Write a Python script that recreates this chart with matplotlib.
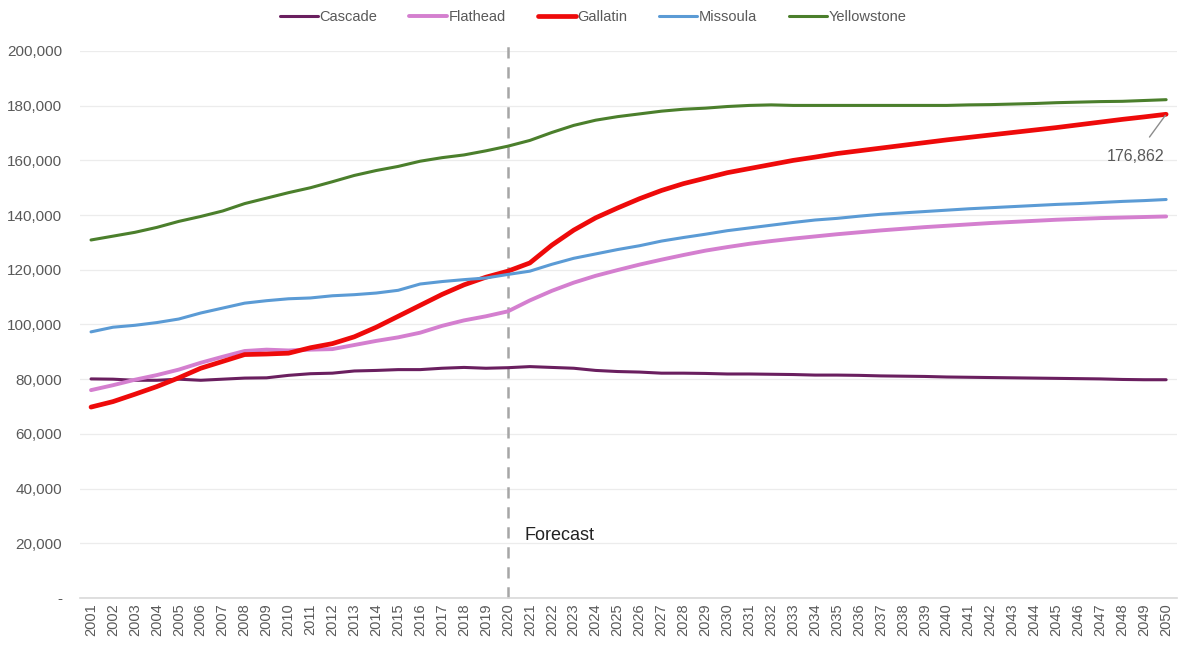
import numpy as np
import matplotlib
matplotlib.use("Agg")
import matplotlib.pyplot as plt
from matplotlib.ticker import FuncFormatter

plt.rcParams['font.family'] = ['Liberation Sans', 'DejaVu Sans']

# years and county populations
years = list(range(2001, 2051))

cascade = [80.1, 80.0, 79.6, 79.6, 80.0, 79.6, 80.0, 80.4, 80.5, 81.4,
           82.0, 82.2, 83.0, 83.2, 83.5, 83.5, 84.0, 84.3, 84.0, 84.2,
           84.6, 84.3, 84.0, 83.2, 82.8, 82.6, 82.2, 82.2, 82.1, 81.9,
           81.9, 81.8, 81.7, 81.5, 81.5, 81.4, 81.2, 81.1, 81.0, 80.8,
           80.7, 80.6, 80.5, 80.4, 80.3, 80.2, 80.1, 79.9, 79.8, 79.8]

flathead = [76.0, 77.8, 79.8, 81.5, 83.5, 86.0, 88.2, 90.3, 90.8, 90.5,
            90.8, 91.0, 92.5, 94.0, 95.3, 97.0, 99.5, 101.5, 103.0, 104.8,
            108.8, 112.3, 115.3, 117.8, 119.9, 121.9, 123.7, 125.4, 127.0, 128.3,
            129.5, 130.5, 131.4, 132.2, 133.0, 133.7, 134.4, 135.0, 135.6, 136.1,
            136.6, 137.1, 137.5, 137.9, 138.3, 138.6, 138.9, 139.1, 139.3, 139.5]

gallatin = [69.8, 71.8, 74.5, 77.3, 80.5, 84.0, 86.5, 89.0, 89.2, 89.5,
            91.5, 93.0, 95.5, 99.0, 103.0, 107.0, 111.0, 114.5, 117.3, 119.5,
            122.5, 129.0, 134.5, 139.0, 142.6, 146.0, 149.0, 151.5, 153.5, 155.5,
            157.0, 158.5, 160.0, 161.2, 162.5, 163.5, 164.5, 165.5, 166.5, 167.5,
            168.4, 169.3, 170.2, 171.1, 172.0, 173.0, 174.0, 175.0, 175.9, 176.862]

missoula = [97.3, 99.0, 99.7, 100.7, 102.0, 104.2, 106.0, 107.8, 108.7, 109.4,
            109.7, 110.5, 110.9, 111.5, 112.5, 114.8, 115.7, 116.4, 117.0, 118.3,
            119.5, 122.0, 124.2, 125.8, 127.4, 128.8, 130.5, 131.8, 133.0, 134.3,
            135.3, 136.3, 137.3, 138.2, 138.8, 139.6, 140.3, 140.8, 141.3, 141.8,
            142.3, 142.7, 143.1, 143.5, 143.9, 144.2, 144.6, 145.0, 145.3, 145.7]

yellowstone = [130.9, 132.3, 133.7, 135.5, 137.7, 139.5, 141.5, 144.2, 146.2, 148.2,
               150.0, 152.2, 154.5, 156.3, 157.8, 159.7, 161.0, 162.0, 163.5, 165.2,
               167.3, 170.2, 172.8, 174.7, 176.0, 177.0, 178.0, 178.7, 179.1, 179.7,
               180.1, 180.3, 180.1, 180.1, 180.1, 180.1, 180.1, 180.1, 180.1, 180.1,
               180.3, 180.4, 180.6, 180.8, 181.1, 181.3, 181.5, 181.6, 181.9, 182.2]

series = [
    ("Cascade", cascade, "#6a1f5f", 2.2),
    ("Flathead", flathead, "#d47fcf", 2.8),
    ("Gallatin", gallatin, "#ee0a0a", 3.4),
    ("Missoula", missoula, "#5b9bd5", 2.2),
    ("Yellowstone", yellowstone, "#4b7f2c", 2.2),
]

fig = plt.figure(figsize=(11.86, 6.48), dpi=100)
ax = fig.add_axes([0.0675, 0.0772, 0.925, 0.8441])

for name, vals, col, lw in series:
    ax.plot(years, np.array(vals) * 1000, color=col, lw=lw, label=name,
            solid_capstyle='round', zorder=3)

ax.set_xlim(2000.5, 2050.5)
ax.set_ylim(0, 200000)
ax.set_yticks(range(0, 200001, 20000))
ax.yaxis.set_major_formatter(FuncFormatter(lambda v, p: "-" if v == 0 else f"{int(v):,}"))
ax.set_xticks(years)
ax.set_xticklabels([str(y) for y in years], rotation=90, fontsize=10.5, color="#595959")
ax.tick_params(axis='y', labelsize=11, colors="#595959", length=0, pad=13)
ax.tick_params(axis='x', length=0, pad=4)

ax.grid(axis='y', color="#ececec", lw=0.9, zorder=0)
for s in ['top', 'right', 'left']:
    ax.spines[s].set_visible(False)
ax.spines['bottom'].set_color("#d9d9d9")
ax.spines['bottom'].set_linewidth(1.2)

# forecast divider
ax.axvline(2020, ymin=0, ymax=1.012, color="#a6a6a6", lw=1.8,
           ls=(0, (4.5, 3.5)), clip_on=False, zorder=2)
ax.text(2020.75, 23000, "Forecast", fontsize=13, color="#222222", va='center', ha='left')

# end label for Gallatin
ax.annotate("176,862", xy=(2050, 176862), xytext=(2048.6, 161500),
            fontsize=11.5, color="#595959", ha='center', va='center',
            arrowprops=dict(arrowstyle='-', color="#8c8c8c", lw=1.0, shrinkA=8, shrinkB=1))

fig.legend(loc='upper center', bbox_to_anchor=(0.5, 1.005), ncol=5, frameon=False,
           fontsize=10.5, handlelength=2.6, columnspacing=2.2, handletextpad=0.1,
           labelcolor="#595959")

fig.savefig("out.png", dpi=100, facecolor="white")
